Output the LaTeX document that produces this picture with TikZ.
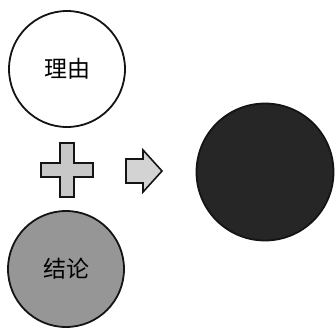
\documentclass[tikz,border=0pt]{standalone}
\usepackage{fontspec}
\newfontfamily\cjk{Noto Sans CJK SC}
\usetikzlibrary{positioning}
\definecolor{inkblack}{RGB}{20,20,20}
\definecolor{speckgray}{RGB}{150,150,150}
\definecolor{lightgray}{RGB}{200,200,200}
\definecolor{darkfill}{RGB}{38,38,38}
\tikzset{
  ball/.style={circle,draw=inkblack,line width=1.8pt,minimum size=116pt,
    inner sep=0pt,font=\cjk\fontsize{23pt}{23pt}\selectfont},
  reason/.style={ball,fill=white},
  conclusion/.style={ball,fill=speckgray},
  result/.style={ball,fill=darkfill,minimum size=137pt},
  sign/.style={draw=inkblack,line width=1.6pt,fill=lightgray,line join=miter}
}
\begin{document}
\begin{tikzpicture}[x=1pt,y=-1pt]
  \useasboundingbox (0,0) rectangle (336,330);
  \node[reason] (why) at (67,69) {理由};
  \node[conclusion] (claim) at (66,269) {结论};
  \node[result] (whole) at (265,172) {};
  \coordinate (plus) at (67,170);
  \coordinate (arrow) at (126,171);
  % plus sign between the two circles
  \draw[sign] (plus) ++(-7,-27) -- ++(14,0) -- ++(0,20) -- ++(19,0) -- ++(0,14)
    -- ++(-19,0) -- ++(0,20) -- ++(-14,0) -- ++(0,-20) -- ++(-19,0)
    -- ++(0,-14) -- ++(19,0) -- cycle;
  % arrow towards the result
  \draw[sign,fill=lightgray!80] (arrow) ++(0,-12) -- ++(17,0) -- ++(0,-9) -- ++(19,21)
    -- ++(-19,21) -- ++(0,-9) -- ++(-17,0) -- cycle;
\end{tikzpicture}
\end{document}
